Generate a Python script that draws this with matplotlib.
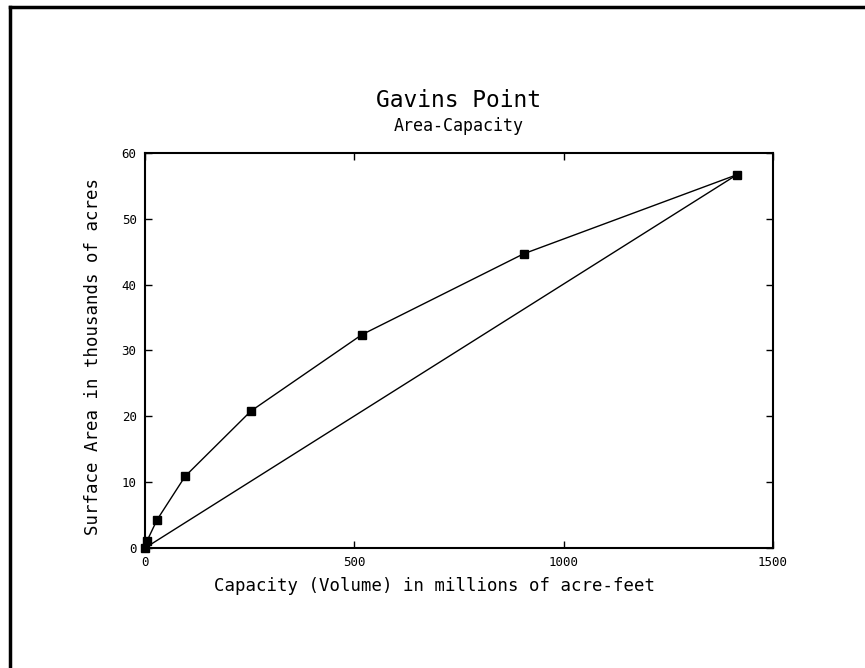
import matplotlib.pyplot as plt
from matplotlib.lines import Line2D

capacity = [0, 5, 29, 96, 253, 518, 905, 1414]
area = [0, 1.1, 4.3, 10.9, 20.8, 32.4, 44.7, 56.7]

# straight reference line from origin to the last point
chord_x = [capacity[0], capacity[-1]]
chord_y = [area[0], area[-1]]

plt.rcParams["font.family"] = "DejaVu Sans Mono"

fig = plt.figure(figsize=(8.65, 6.68), dpi=100)
ax = fig.add_axes([0.1676, 0.1796, 0.726, 0.5914])

ax.plot(capacity, area, color="black", lw=1.0, marker="s", ms=6, clip_on=False, zorder=3)
ax.plot(chord_x, chord_y, color="black", lw=1.0, clip_on=False)

ax.set_xlim(0, 1500)
ax.set_ylim(0, 60)
ax.set_xticks([0, 500, 1000, 1500])
ax.set_yticks(range(0, 61, 10))
ax.tick_params(direction="in", length=5, width=1, labelsize=9, top=True, right=True, pad=6)
for s in ax.spines.values():
    s.set_linewidth(1.5)

fig.text(0.502, 0.123, "Capacity (Volume) in millions of acre-feet", ha="center", va="center", fontsize=12.5)
fig.text(0.108, 0.467, "Surface Area in thousands of acres", ha="center", va="center",
         rotation=90, fontsize=12.5)

fig.text(0.530, 0.850, "Gavins Point", ha="center", va="center", fontsize=16.5)
fig.text(0.530, 0.811, "Area-Capacity", ha="center", va="center", fontsize=12)

# page border (left and top edges)
fig.add_artist(Line2D([0.011, 0.011], [0.0, 0.990], transform=fig.transFigure, color="black", lw=2.5))
fig.add_artist(Line2D([0.011, 1.0], [0.990, 0.990], transform=fig.transFigure, color="black", lw=2.5))

fig.savefig("out.png", dpi=100)
